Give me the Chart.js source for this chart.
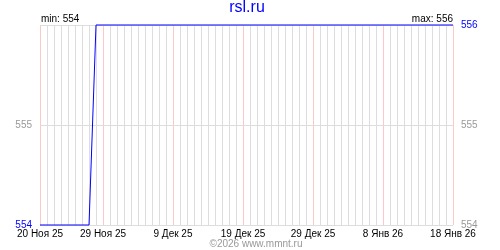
<!DOCTYPE html>
<html><head><meta charset="utf-8">
<script src="https://cdn.jsdelivr.net/npm/chart.js@4/dist/chart.umd.min.js"></script>
<style>html,body{margin:0;padding:0;background:#fff}#w{width:500px;height:250px}</style>
</head><body><div id="w"><canvas id="c" width="500" height="250"></canvas></div>
<script>
const title = 'rsl.ru';
const dates = [
 '20 Ноя 25','21 Ноя 25','22 Ноя 25','23 Ноя 25','24 Ноя 25','25 Ноя 25','26 Ноя 25','27 Ноя 25','28 Ноя 25','29 Ноя 25','30 Ноя 25',
 '1 Дек 25','2 Дек 25','3 Дек 25','4 Дек 25','5 Дек 25','6 Дек 25','7 Дек 25','8 Дек 25','9 Дек 25','10 Дек 25',
 '11 Дек 25','12 Дек 25','13 Дек 25','14 Дек 25','15 Дек 25','16 Дек 25','17 Дек 25','18 Дек 25','19 Дек 25','20 Дек 25',
 '21 Дек 25','22 Дек 25','23 Дек 25','24 Дек 25','25 Дек 25','26 Дек 25','27 Дек 25','28 Дек 25','29 Дек 25','30 Дек 25','31 Дек 25',
 '1 Янв 26','2 Янв 26','3 Янв 26','4 Янв 26','5 Янв 26','6 Янв 26','7 Янв 26','8 Янв 26','9 Янв 26','10 Янв 26',
 '11 Янв 26','12 Янв 26','13 Янв 26','14 Янв 26','15 Янв 26','16 Янв 26','17 Янв 26','18 Янв 26'
];
const values = [
 554,554,554,554,554,554,554,554,556,556,556,
 556,556,556,556,556,556,556,556,556,556,
 556,556,556,556,556,556,556,556,556,556,
 556,556,556,556,556,556,556,556,556,556,556,
 556,556,556,556,556,556,556,556,556,556,
 556,556,556,556,556,556,556,556
];
const tickLabels = ['20 Ноя 25','29 Ноя 25','9 Дек 25','19 Дек 25','29 Дек 25','8 Янв 26','18 Янв 26'];
const yMin = 554, yMax = 556;
const minText = 'min: 554', maxText = 'max: 556', footer = '©2026 www.mmnt.ru';

const FONT = 'Liberation Sans, Arial, sans-serif';
const BLUE = '#0000ff', GRAY = '#999999', GRID = '#dddddd', PINK = '#ffc8c8';

const textPlugin = {
  id: 'texts',
  afterDraw(chart) {
    const c = chart.ctx, a = chart.chartArea;
    c.save();
    c.fillStyle = BLUE; c.font = '16px ' + FONT; c.textAlign = 'center'; c.textBaseline = 'middle';
    c.fillText(title, 247, 8);
    c.fillStyle = '#000'; c.font = '10px ' + FONT; c.textBaseline = 'alphabetic';
    c.textAlign = 'left'; c.fillText(minText, a.left + 1, 22);
    c.textAlign = 'right'; c.fillText(maxText, a.right, 22);
    c.fillStyle = GRAY; c.textAlign = 'center'; c.fillText(footer, 256, 247);
    c.restore();
  }
};

new Chart(document.getElementById('c'), {
  type: 'line',
  data: { labels: dates, datasets: [{ data: values, borderColor: BLUE, borderWidth: 1, pointRadius: 0, tension: 0, fill: false, clip: false, yAxisID: 'y' }] },
  options: {
    responsive: false, animation: false, events: [],
    layout: { padding: { top: 25, left: 0, right: 0, bottom: 0 } },
    plugins: { legend: { display: false }, tooltip: { enabled: false }, title: { display: false } },
    scales: {
      x: {
        type: 'category', offset: false,
        border: { display: false },
        grid: { drawTicks: false, lineWidth: 1, color: ctx => tickLabels.includes(dates[ctx.index]) ? PINK : GRID },
        ticks: { autoSkip: false, maxRotation: 0, minRotation: 0, padding: 3, color: '#000', font: { family: FONT, size: 10 },
          callback: (v, i) => tickLabels.includes(dates[i]) ? dates[i] : '' },
        afterFit: s => { s.height = 25; }
      },
      y: {
        position: 'left', min: yMin, max: yMax,
        border: { display: false },
        grid: { drawTicks: false, color: GRID },
        ticks: { stepSize: 1, padding: 8, font: { family: FONT, size: 10 },
          color: ctx => ctx.tick.value === yMin ? BLUE : GRAY,
          callback: v => v === yMax ? '' : String(v) },
        afterFit: s => { s.width = 40; }
      },
      y2: {
        position: 'right', min: yMin, max: yMax,
        border: { display: false },
        grid: { display: false, drawTicks: false },
        ticks: { stepSize: 1, padding: 8, font: { family: FONT, size: 10 },
          color: ctx => ctx.tick.value === yMax ? BLUE : GRAY,
          callback: v => String(v) },
        afterFit: s => { s.width = 47; }
      }
    }
  },
  plugins: [textPlugin]
});
</script></body></html>
